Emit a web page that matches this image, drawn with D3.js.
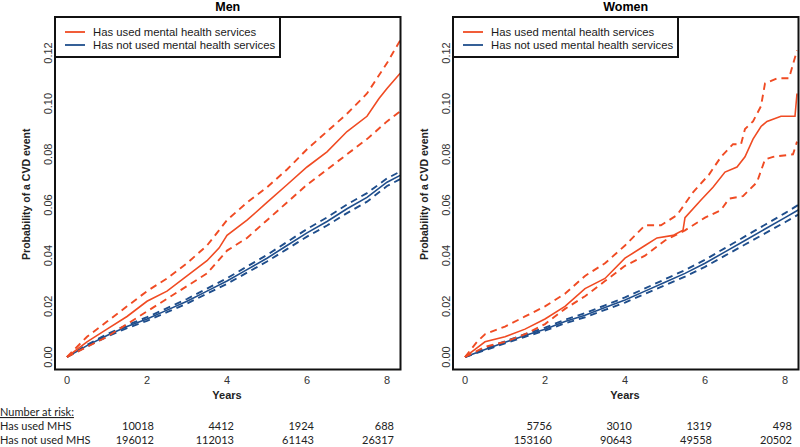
<!DOCTYPE html>
<html><head><meta charset="utf-8">
<script src="https://cdn.jsdelivr.net/npm/d3@7"></script>
<style>body{margin:0;background:#fff}svg{display:block}</style>
</head><body>
<script>
// ---- data ----
const panels = ["Men", "Women"];
const seriesNames = ["Has used mental health services", "Has not used mental health services"];
const xTicks = [0, 2, 4, 6, 8];
const yTicks = [0, 0.02, 0.04, 0.06, 0.08, 0.10, 0.12];
const riskTimes = [2, 4, 6, 8];
const riskRowLabels = ["Has used MHS", "Has not used MHS"];
const menRiskUsed = [10018, 4412, 1924, 688];
const menRiskNot = [196012, 112013, 61143, 26317];
const womenRiskUsed = [5756, 3010, 1319, 498];
const womenRiskNot = [153160, 90643, 49558, 20502];

// Men, used MHS
const menUsedT   = [0,0.5,1,1.5,2,2.5,3,3.5,3.8,4,4.5,5,5.5,6,6.5,7,7.5,7.8,8,8.33];
const menUsed    = [0,0.006,0.011,0.016,0.022,0.026,0.032,0.038,0.043,0.048,0.054,0.061,0.068,0.075,0.081,0.089,0.095,0.102,0.106,0.112];
const menUsedUpT = [0,0.5,1,1.5,2,2.5,3,3.5,3.8,4,4.5,5,5.5,6,6.5,7,7.5,8,8.33];
const menUsedUp  = [0,0.008,0.014,0.020,0.026,0.031,0.037,0.044,0.050,0.054,0.061,0.067,0.074,0.082,0.089,0.096,0.104,0.116,0.125];
const menUsedLoT = [0,0.5,1,1.5,2,2.5,3,3.5,4,4.5,5,5.5,6,6.5,7,7.5,8,8.33];
const menUsedLo  = [0,0.004,0.008,0.013,0.018,0.023,0.028,0.033,0.042,0.047,0.054,0.061,0.068,0.074,0.080,0.086,0.093,0.097];
// Men, not used MHS
const menNotT  = [0,0.5,1,1.5,2,2.5,3,3.5,4,4.5,5,5.5,6,6.5,7,7.5,8,8.33];
const menNot   = [0,0.0045,0.0085,0.012,0.015,0.0185,0.022,0.026,0.030,0.0345,0.039,0.044,0.049,0.0535,0.0585,0.063,0.069,0.0717];
const menNotUp = [0,0.0048,0.0090,0.0126,0.0157,0.0193,0.0229,0.0270,0.0311,0.0357,0.0403,0.0454,0.0505,0.0551,0.0602,0.0647,0.0705,0.0732];
const menNotLo = [0,0.0042,0.0080,0.0114,0.0143,0.0177,0.0211,0.0250,0.0289,0.0333,0.0377,0.0426,0.0475,0.0519,0.0568,0.0613,0.0675,0.0702];

// Women, used MHS
const womUsedT   = [0,0.25,0.5,1,1.5,2,2.5,3,3.5,4,4.5,4.8,5.2,5.45,5.5,5.9,6.2,6.5,6.8,7.0,7.2,7.4,7.55,7.9,8.25,8.3];
const womUsed    = [0,0.003,0.006,0.008,0.011,0.015,0.020,0.027,0.031,0.039,0.044,0.047,0.048,0.050,0.055,0.062,0.067,0.073,0.075,0.079,0.086,0.091,0.093,0.095,0.095,0.104];
const womUsedUpT = [0,0.3,0.5,1,1.5,2,2.5,3,3.5,4,4.5,4.9,5.3,5.7,6.1,6.4,6.7,6.9,7.0,7.2,7.4,7.5,7.8,8.1,8.3];
const womUsedUp  = [0,0.006,0.009,0.012,0.016,0.020,0.025,0.032,0.037,0.044,0.052,0.052,0.056,0.065,0.072,0.079,0.084,0.084,0.090,0.093,0.099,0.108,0.110,0.110,0.121];
const womUsedLoT = [0,0.5,1,1.5,2,2.5,3,3.5,4,4.5,5,5.5,6,6.4,6.6,6.95,7.3,7.5,7.7,8.2,8.3];
const womUsedLo  = [0,0.004,0.006,0.009,0.013,0.019,0.024,0.030,0.036,0.040,0.046,0.050,0.055,0.058,0.0625,0.0635,0.069,0.078,0.079,0.080,0.085];
// Women, not used MHS
const womNotT  = [0,0.5,1,1.5,2,2.5,3,3.5,4,4.5,5,5.5,6,6.5,7,7.5,8,8.33];
const womNot   = [0,0.003,0.0058,0.0085,0.011,0.014,0.0165,0.0195,0.0225,0.026,0.0295,0.033,0.037,0.0415,0.046,0.0505,0.055,0.058];
const womNotUp = [0,0.0033,0.0062,0.0090,0.0116,0.0147,0.0173,0.0204,0.0235,0.0271,0.0307,0.0343,0.0384,0.0430,0.0476,0.0522,0.0568,0.0600];
const womNotLo = [0,0.0027,0.0054,0.0080,0.0104,0.0133,0.0157,0.0186,0.0215,0.0249,0.0283,0.0317,0.0356,0.0400,0.0444,0.0488,0.0532,0.0562];

const ORANGE = "#F04B23", BLUE = "#1F4E8C";
const W = 800, H = 447;
const svg = d3.select("body").append("svg").attr("width", W).attr("height", H)
  .style("font-family", "'Liberation Sans', Arial, sans-serif");

const zip = (ts, vs) => ts.map((t, i) => [t, vs[i]]);
const panelData = [
  { used: [zip(menUsedT, menUsed), zip(menUsedUpT, menUsedUp), zip(menUsedLoT, menUsedLo)],
    not: [zip(menNotT, menNot), zip(menNotT, menNotUp), zip(menNotT, menNotLo)],
    risk: [menRiskUsed, menRiskNot], left: 55 },
  { used: [zip(womUsedT, womUsed), zip(womUsedUpT, womUsedUp), zip(womUsedLoT, womUsedLo)],
    not: [zip(womNotT, womNot), zip(womNotT, womNotUp), zip(womNotT, womNotLo)],
    risk: [womenRiskUsed, womenRiskNot], left: 453 }
];

const pTop = 17, pBottom = 369.5, pw = 345.5;

panelData.forEach((p, pi) => {
  const x = d3.scaleLinear().domain([-0.3, 8.3375]).range([p.left, p.left + pw]);
  const y = d3.scaleLinear().domain([-0.00493, 0.1342]).range([pBottom, pTop]);
  const g = svg.append("g");
  const clipId = "clip" + pi;
  svg.append("clipPath").attr("id", clipId).append("rect")
    .attr("x", p.left).attr("y", pTop).attr("width", pw).attr("height", pBottom - pTop);

  const line = d3.line().x(d => x(d[0])).y(d => y(d[1]));
  const lg = g.append("g").attr("clip-path", `url(#${clipId})`);
  [[p.not, BLUE], [p.used, ORANGE]].forEach(([arr, col]) => {
    arr.forEach((d, i) => {
      lg.append("path").attr("d", line(d)).attr("fill", "none").attr("stroke", col)
        .attr("stroke-width", i === 0 ? 1.6 : 1.9)
        .attr("stroke-dasharray", i === 0 ? null : "7,5");
    });
  });

  g.append("rect").attr("x", p.left).attr("y", pTop).attr("width", pw).attr("height", pBottom - pTop)
    .attr("fill", "none").attr("stroke", "#111").attr("stroke-width", 2);

  g.selectAll(".xt").data(xTicks).enter().append("text")
    .attr("x", d => x(d)).attr("y", 384).attr("text-anchor", "middle")
    .attr("font-size", 11).attr("fill", "#333").text(d => d);
  g.selectAll(".yt").data(yTicks).enter().append("text")
    .attr("transform", d => `translate(${p.left - 3},${y(d)}) rotate(-90)`)
    .attr("text-anchor", "middle").attr("font-size", 11).attr("fill", "#333")
    .text(d => d3.format(".2f")(d));

  g.append("text").attr("x", p.left + pw / 2).attr("y", 11).attr("text-anchor", "middle")
    .attr("font-size", 12.5).attr("font-weight", "bold").text(panels[pi]);
  g.append("text").attr("x", x(4)).attr("y", 399).attr("text-anchor", "middle")
    .attr("font-size", 11).attr("font-weight", "bold").attr("fill", "#222").text("Years");
  g.append("text").attr("transform", `translate(${p.left - 25},${(pTop + pBottom) / 2 + 1}) rotate(-90)`)
    .attr("text-anchor", "middle").attr("font-size", 10.5).attr("font-weight", "bold").attr("fill", "#222")
    .text("Probability of a CVD event");

  const lgx = p.left, lgy = pTop;
  g.append("rect").attr("x", lgx).attr("y", lgy).attr("width", 225).attr("height", 40)
    .attr("fill", "#fff").attr("stroke", "#111").attr("stroke-width", 2);
  [ORANGE, BLUE].forEach((c, i) => {
    const ly = lgy + 15 + i * 13;
    g.append("line").attr("x1", lgx + 10).attr("x2", lgx + 30).attr("y1", ly).attr("y2", ly)
      .attr("stroke", c).attr("stroke-width", 1.8);
    g.append("text").attr("x", lgx + 38).attr("y", ly + 4.3).attr("font-size", 11.3).attr("fill", "#1a1a1a")
      .text(seriesNames[i]);
  });

  p.risk.forEach((row, ri) => {
    g.selectAll(".r" + ri).data(row).enter().append("text")
      .attr("x", (d, i) => x(riskTimes[i]) + 7).attr("y", 430 + ri * 14)
      .attr("text-anchor", "end").attr("font-size", 11).attr("fill", "#222")
      .style("font-family", "Lato, sans-serif").text(d => d);
  });
});

svg.append("text").attr("x", 0).attr("y", 416).attr("font-size", 11).attr("fill", "#222")
  .style("font-family", "Lato, sans-serif").attr("text-decoration", "underline").text("Number at risk:");
riskRowLabels.forEach((l, i) => {
  svg.append("text").attr("x", 0).attr("y", 430 + i * 14).attr("font-size", 11).attr("fill", "#222")
    .style("font-family", "Lato, sans-serif").text(l);
});
</script>
</body></html>
